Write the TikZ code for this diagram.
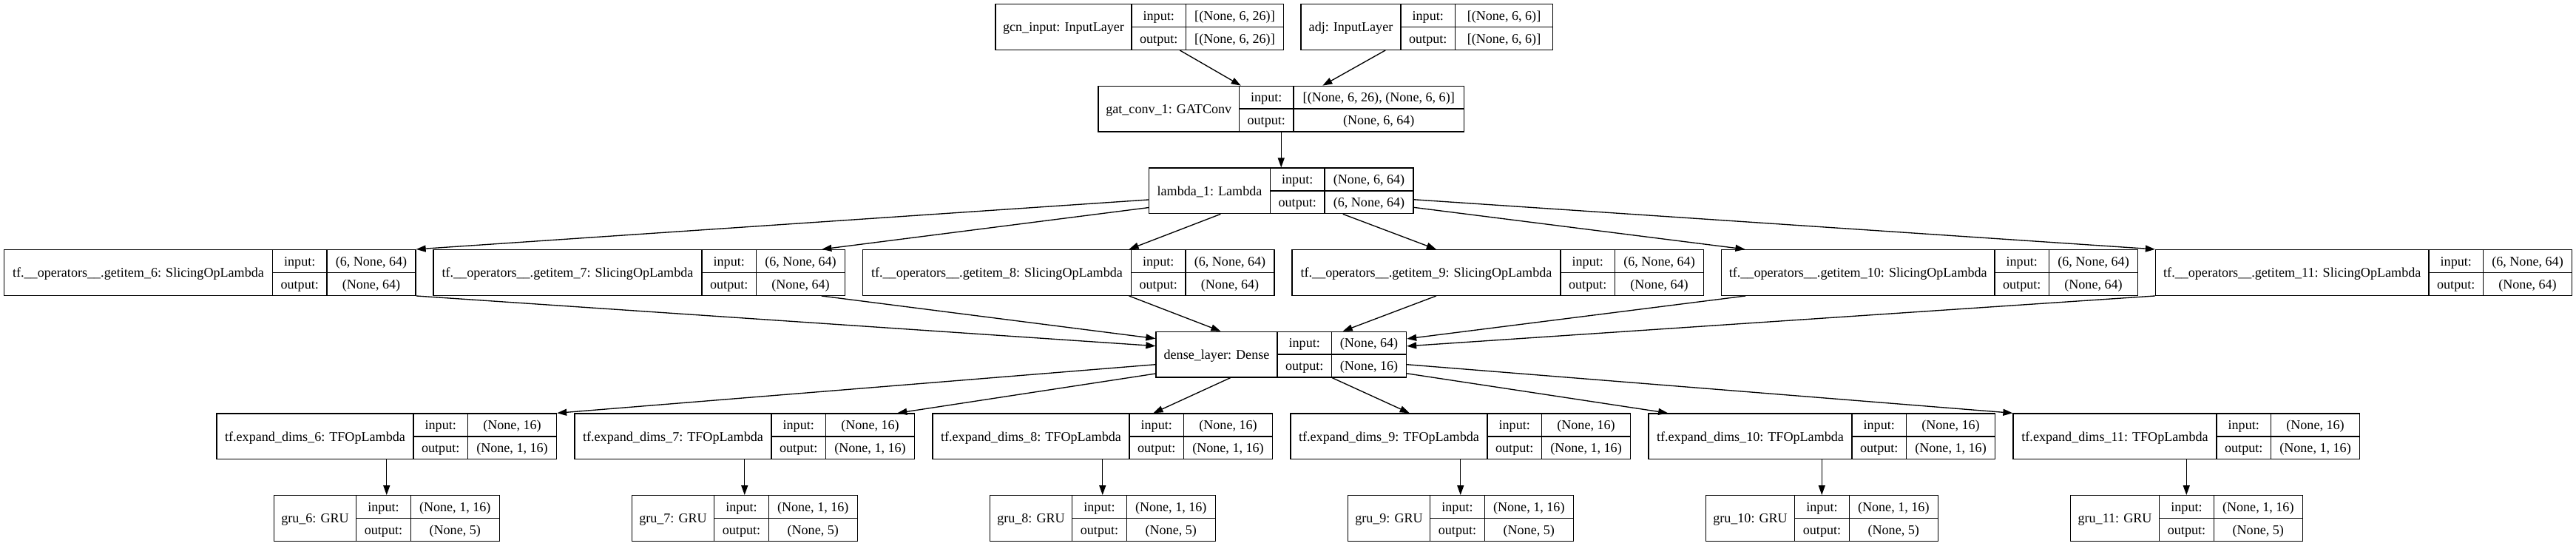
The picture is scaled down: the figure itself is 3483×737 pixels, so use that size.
\documentclass[tikz,border=0pt]{standalone}
\usepackage{fontspec}
\setmainfont{Liberation Serif}
\usetikzlibrary{arrows.meta}
\tikzset{
  recbox/.style={draw, line width=1.33pt, inner sep=0pt, minimum height=61.7pt},
  rectxt/.style={inner sep=0pt, font=\fontsize{18.1}{21}\selectfont, text height=14.4pt, text depth=2pt},
  recline/.style={line width=1.33pt},
  conn/.style={line width=1.33pt, -{Triangle[length=13pt,width=9pt]}},
}
% #1 name, #2 left x, #3 top y, #4 title width, #5 label width, #6 value width, #7 title, #8 input, #9 output
\newcommand{\recnode}[9]{%
  \pgfmathsetmacro{\recA}{#2+#4}%
  \pgfmathsetmacro{\recB}{\recA+#5}%
  \pgfmathsetmacro{\recC}{\recB+#6}%
  \pgfmathsetmacro{\recM}{#3+30.85}%
  \pgfmathsetmacro{\recD}{#3+61.7}%
  \pgfmathsetmacro{\recW}{#4+#5+#6}%
  \pgfmathsetmacro{\recX}{(#2+\recC)/2}%
  \pgfmathsetmacro{\recT}{(#2+\recA)/2}%
  \pgfmathsetmacro{\recL}{(\recA+\recB)/2}%
  \pgfmathsetmacro{\recV}{(\recB+\recC)/2}%
  \pgfmathsetmacro{\recU}{#3+15.425}%
  \pgfmathsetmacro{\recO}{#3+46.275}%
  \node[recbox, minimum width=\recW pt] (#1) at (\recX,\recM) {};
  \draw[recline] (\recA,#3) -- (\recA,\recD);
  \draw[recline] (\recB,#3) -- (\recB,\recD);
  \draw[recline] (\recA,\recM) -- (\recC,\recM);
  \node[rectxt] (#1-t) at (\recT,\recM) {#7};
  \node[rectxt] (#1-il) at (\recL,\recU) {input:};
  \node[rectxt] (#1-ol) at (\recL,\recO) {output:};
  \node[rectxt] (#1-iv) at (\recV,\recU) {#8};
  \node[rectxt] (#1-ov) at (\recV,\recO) {#9};
}
\begin{document}
\begin{tikzpicture}[x=1pt,y=-1pt]
\fill[white] (0,0) rectangle (3483,737);
\useasboundingbox (0,0) rectangle (3483,737);
% row 0
\recnode{gcn}{1346}{5.6}{184}{73.5}{132}{gcn\_input: InputLayer}{[(None, 6, 26)]}{[(None, 6, 26)]}
\recnode{adj}{1759}{5.6}{135}{73.5}{132}{adj: InputLayer}{[(None, 6, 6)]}{[(None, 6, 6)]}
% row 1
\recnode{gat}{1485}{116.3}{190.5}{73.5}{230.5}{gat\_conv\_1: GATConv}{[(None, 6, 26), (None, 6, 6)]}{(None, 6, 64)}
% row 2
\recnode{lam}{1553.5}{227}{164}{73.5}{120}{lambda\_1: Lambda}{(None, 6, 64)}{(6, None, 64)}
% row 3
\recnode{g6}{5.5}{337.6}{363}{73.5}{120}{tf.\_\_operators\_\_.getitem\_6: SlicingOpLambda}{(6, None, 64)}{(None, 64)}
\recnode{g7}{586}{337.6}{363}{73.5}{120}{tf.\_\_operators\_\_.getitem\_7: SlicingOpLambda}{(6, None, 64)}{(None, 64)}
\recnode{g8}{1166.5}{337.6}{363}{73.5}{120}{tf.\_\_operators\_\_.getitem\_8: SlicingOpLambda}{(6, None, 64)}{(None, 64)}
\recnode{g9}{1747}{337.6}{363}{73.5}{120}{tf.\_\_operators\_\_.getitem\_9: SlicingOpLambda}{(6, None, 64)}{(None, 64)}
\recnode{g10}{2327.5}{337.6}{369.5}{73.5}{120}{tf.\_\_operators\_\_.getitem\_10: SlicingOpLambda}{(6, None, 64)}{(None, 64)}
\recnode{g11}{2914.5}{337.6}{369.5}{73.5}{120}{tf.\_\_operators\_\_.getitem\_11: SlicingOpLambda}{(6, None, 64)}{(None, 64)}
% row 4
\recnode{dense}{1563}{448.3}{164}{73.5}{101}{dense\_layer: Dense}{(None, 64)}{(None, 16)}
% row 5
\recnode{e6}{293}{559}{266}{73.5}{120}{tf.expand\_dims\_6: TFOpLambda}{(None, 16)}{(None, 1, 16)}
\recnode{e7}{777}{559}{266}{73.5}{120}{tf.expand\_dims\_7: TFOpLambda}{(None, 16)}{(None, 1, 16)}
\recnode{e8}{1261}{559}{266}{73.5}{120}{tf.expand\_dims\_8: TFOpLambda}{(None, 16)}{(None, 1, 16)}
\recnode{e9}{1745}{559}{266}{73.5}{120}{tf.expand\_dims\_9: TFOpLambda}{(None, 16)}{(None, 1, 16)}
\recnode{e10}{2229}{559}{275}{73.5}{120}{tf.expand\_dims\_10: TFOpLambda}{(None, 16)}{(None, 1, 16)}
\recnode{e11}{2722}{559}{275}{73.5}{120}{tf.expand\_dims\_11: TFOpLambda}{(None, 16)}{(None, 1, 16)}
% row 6
\recnode{r6}{370.25}{669.7}{111.5}{73.5}{120}{gru\_6: GRU}{(None, 1, 16)}{(None, 5)}
\recnode{r7}{854.25}{669.7}{111.5}{73.5}{120}{gru\_7: GRU}{(None, 1, 16)}{(None, 5)}
\recnode{r8}{1338.25}{669.7}{111.5}{73.5}{120}{gru\_8: GRU}{(None, 1, 16)}{(None, 5)}
\recnode{r9}{1822.25}{669.7}{111.5}{73.5}{120}{gru\_9: GRU}{(None, 1, 16)}{(None, 5)}
\recnode{r10}{2306.25}{669.7}{120.5}{73.5}{120}{gru\_10: GRU}{(None, 1, 16)}{(None, 5)}
\recnode{r11}{2799.25}{669.7}{120.5}{73.5}{120}{gru\_11: GRU}{(None, 1, 16)}{(None, 5)}
% connectors
\draw[conn] (gcn) -- (gat);
\draw[conn] (adj) -- (gat);
\draw[conn] (gat) -- (lam);
\draw[conn] (lam) -- (g6.north east);
\draw[conn] (lam) -- (g7);
\draw[conn] (lam) -- (g8);
\draw[conn] (lam) -- (g9);
\draw[conn] (lam) -- (g10);
\draw[conn] (lam) -- (g11.north west);
\draw[conn] (g6.south east) -- (dense);
\draw[conn] (g7) -- (dense);
\draw[conn] (g8) -- (dense);
\draw[conn] (g9) -- (dense);
\draw[conn] (g10) -- (dense);
\draw[conn] (g11.south west) -- (dense);
\draw[conn] (dense) -- (e6.north east);
\draw[conn] (dense) -- (e7);
\draw[conn] (dense) -- (e8);
\draw[conn] (dense) -- (e9);
\draw[conn] (dense) -- (e10);
\draw[conn] (dense) -- (e11.north west);
\draw[conn] (e6) -- (r6);
\draw[conn] (e7) -- (r7);
\draw[conn] (e8) -- (r8);
\draw[conn] (e9) -- (r9);
\draw[conn] (e10) -- (r10);
\draw[conn] (e11) -- (r11);
\end{tikzpicture}
\end{document}
